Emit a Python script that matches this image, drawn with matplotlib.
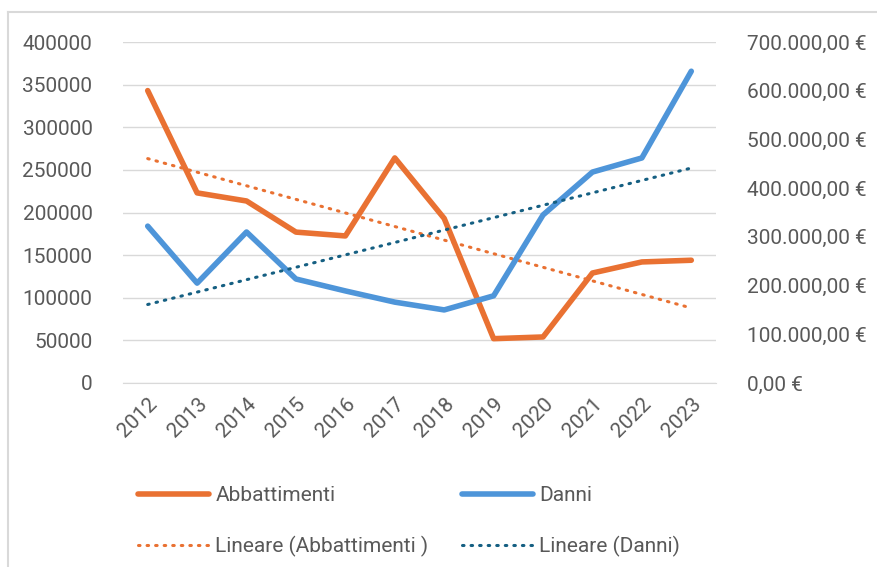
import numpy as np
import matplotlib.pyplot as plt
from matplotlib.lines import Line2D

# dati
anni = ['2012', '2013', '2014', '2015', '2016', '2017',
        '2018', '2019', '2020', '2021', '2022', '2023']
abbattimenti = [343000, 223000, 213500, 177000, 172500, 264000,
                193000, 52000, 54000, 129000, 142000, 144000]
danni = [322000, 205000, 310000, 213500, 189000, 166000,
         150000, 179000, 345000, 433000, 462000, 640000]

sx_ticks = [0, 50000, 100000, 150000, 200000, 250000, 300000, 350000, 400000]
dx_ticks = [0, 100000, 200000, 300000, 400000, 500000, 600000, 700000]

ARANCIO = '#E97132'
BLU = '#4E95D9'
BLU_SCURO = '#155F82'
GRIGIO = '#595959'
FS = 15

plt.rcParams['font.family'] = ['Roboto', 'DejaVu Sans']

fig = plt.figure(figsize=(8.77, 5.67), dpi=100)
ax = fig.add_axes([123 / 877, 184 / 567, 593 / 877, 341 / 567])
ax2 = ax.twinx()

x = np.arange(len(anni))

# tendenze lineari
k1 = np.polyfit(x, abbattimenti, 1)
k2 = np.polyfit(x, danni, 1)

PUNTI = (0, (0.5, 2.3))
ax.plot(x, np.polyval(k1, x), color=ARANCIO, lw=2.2, ls=PUNTI,
        dash_capstyle='round', zorder=3)
ax.plot(x, abbattimenti, color=ARANCIO, lw=4.0, solid_capstyle='round',
        solid_joinstyle='round', zorder=4)
ax2.plot(x, danni, color=BLU, lw=4.0, solid_capstyle='round',
         solid_joinstyle='round', zorder=4)
ax2.plot(x, np.polyval(k2, x), color=BLU_SCURO, lw=2.2, ls=PUNTI,
         dash_capstyle='round', zorder=5)

ax.set_xlim(-0.5, len(anni) - 0.5)
ax.set_ylim(0, 400000)
ax2.set_ylim(0, 700000)

ax.set_yticks(sx_ticks)
ax.set_yticklabels([str(v) for v in sx_ticks])
ax2.set_yticks(dx_ticks)
ax2.set_yticklabels([f'{v:,.2f}'.replace(',', 'X').replace('.', ',').replace('X', '.') + ' €'
                     for v in dx_ticks])

ax.set_xticks(x)
ax.set_xticklabels(anni, rotation=45, ha='right', rotation_mode='anchor')

ax.grid(axis='y', color='#D9D9D9', lw=1.0)
ax.set_axisbelow(True)
for a in (ax, ax2):
    for s in a.spines.values():
        s.set_visible(False)
    a.tick_params(length=0, labelsize=FS, colors=GRIGIO)
ax.spines['bottom'].set_visible(True)
ax.spines['bottom'].set_color('#D9D9D9')
ax.tick_params(axis='y', pad=22)
ax.tick_params(axis='x', pad=8)
ax2.tick_params(axis='y', pad=22)

# legenda
handles = [
    Line2D([], [], color=ARANCIO, lw=4.0, solid_capstyle='round'),
    Line2D([], [], color=ARANCIO, lw=2.2, ls=PUNTI, dash_capstyle='round'),
    Line2D([], [], color=BLU, lw=4.0, solid_capstyle='round'),
    Line2D([], [], color=BLU_SCURO, lw=2.2, ls=PUNTI, dash_capstyle='round'),
]
labels = ['Abbattimenti', 'Lineare (Abbattimenti )', 'Danni', 'Lineare (Danni)']
fig.legend(handles, labels, ncol=2, loc='upper left',
           bbox_to_anchor=(130 / 877, 1 - 478 / 567), frameon=False,
           fontsize=FS, labelcolor=GRIGIO, handlelength=3.4, handletextpad=0.3,
           columnspacing=1.6, labelspacing=1.45, borderaxespad=0)

# cornice
fig.add_artist(Line2D([8 / 877, 8 / 877], [0, 1 - 12 / 567], color='#D9D9D9', lw=1.5))
fig.add_artist(Line2D([8 / 877, 1], [1 - 12 / 567, 1 - 12 / 567], color='#D9D9D9', lw=1.5))

fig.savefig('out.png', dpi=100)
